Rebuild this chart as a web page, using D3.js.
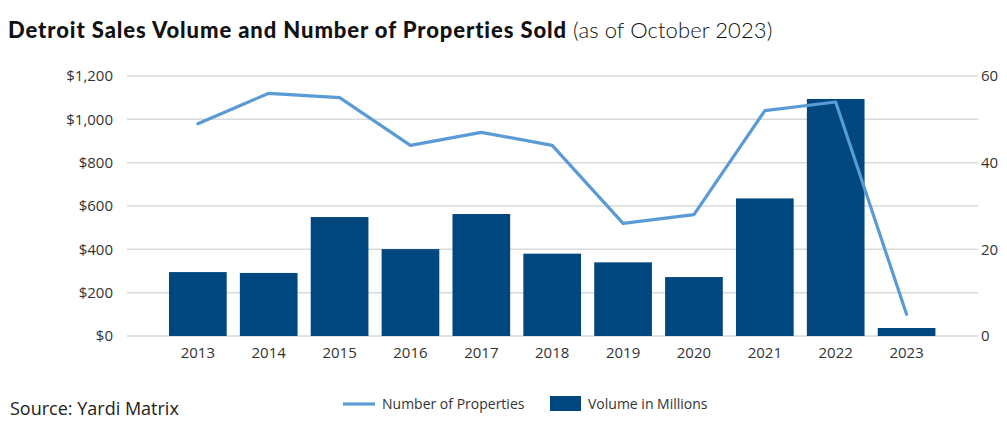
<!DOCTYPE html>
<html>
<head>
<meta charset="utf-8">
<script src="https://cdn.jsdelivr.net/npm/d3@7"></script>
<style>
  html, body { margin: 0; padding: 0; background: #fff; }
  svg { display: block; }
  text { font-family: "Open Sans", sans-serif; }
</style>
</head>
<body>
<svg id="chart" width="1007" height="433"></svg>
<script>
const years = ["2013","2014","2015","2016","2017","2018","2019","2020","2021","2022","2023"];
const volume = [295, 291, 549, 401, 563, 380, 340, 272, 635, 1094, 37];
const properties = [49, 56, 55, 44, 47, 44, 26, 28, 52, 54, 5];
const leftTicks = [0, 200, 400, 600, 800, 1000, 1200];
const rightTicks = [0, 20, 40, 60];

const barColor = "#00467f";
const lineColor = "#5b9bd5";
const gridColor = "#d9d9d9";
const textColor = "#333";

const svg = d3.select("#chart");

const x = d3.scaleBand().domain(years).range([162.4, 942]).paddingInner(0.186).paddingOuter(0.093);
const yL = d3.scaleLinear().domain([0, 1200]).range([336, 76]);
const yR = d3.scaleLinear().domain([0, 60]).range([336, 76]);
const gridX0 = 127, gridX1 = 978;

// gridlines
svg.append("g").selectAll("line").data(leftTicks).join("line")
  .attr("x1", gridX0).attr("x2", gridX1)
  .attr("y1", d => yL(d)).attr("y2", d => yL(d))
  .attr("stroke", gridColor).attr("stroke-width", 1.5);

// left axis labels
const fmt = d => "$" + d3.format(",")(d);
svg.append("g").selectAll("text").data(leftTicks).join("text")
  .attr("x", 113).attr("y", d => yL(d)).attr("dy", "0.35em")
  .attr("text-anchor", "end").attr("font-size", 15).attr("fill", textColor)
  .text(fmt);

// right axis labels
svg.append("g").selectAll("text").data(rightTicks).join("text")
  .attr("x", 981).attr("y", d => yR(d)).attr("dy", "0.35em")
  .attr("text-anchor", "start").attr("font-size", 15).attr("fill", textColor)
  .text(d => d);

// bars
svg.append("g").selectAll("rect").data(years).join("rect")
  .attr("x", d => x(d)).attr("width", x.bandwidth())
  .attr("y", (d, i) => yL(volume[i]))
  .attr("height", (d, i) => yL(0) - yL(volume[i]))
  .attr("fill", barColor);

// line
const line = d3.line()
  .x((d, i) => x(years[i]) + x.bandwidth() / 2)
  .y(d => yR(d));
svg.append("path").datum(properties)
  .attr("d", line).attr("fill", "none")
  .attr("stroke", lineColor).attr("stroke-width", 3.2)
  .attr("stroke-linejoin", "round").attr("stroke-linecap", "round");

// x labels
svg.append("g").selectAll("text").data(years).join("text")
  .attr("x", d => x(d) + x.bandwidth() / 2).attr("y", 358)
  .attr("text-anchor", "middle").attr("font-size", 15).attr("fill", textColor)
  .text(d => d);

// title
const title = svg.append("text").attr("x", 8).attr("y", 38).attr("fill", "#111");
title.append("tspan").attr("font-family", "Lato, sans-serif").attr("font-weight", 900).attr("font-size", 22)
  .attr("letter-spacing", 0.9)
  .text("Detroit Sales Volume and Number of Properties Sold");
title.append("tspan").attr("font-family", "Lato, sans-serif").attr("font-weight", 300).attr("font-size", 22)
  .attr("letter-spacing", 0.1)
  .text(" (as of October 2023)");

// source
svg.append("text").attr("x", 10).attr("y", 415)
  .attr("font-family", "Lato, sans-serif").attr("font-size", 18).attr("fill", "#222")
  .text("Source: Yardi Matrix");

// legend
const lg = svg.append("g");
lg.append("line").attr("x1", 343).attr("x2", 375).attr("y1", 404).attr("y2", 404)
  .attr("stroke", lineColor).attr("stroke-width", 3.2);
lg.append("text").attr("x", 382).attr("y", 404).attr("dy", "0.35em")
  .attr("font-size", 14).attr("fill", textColor).text("Number of Properties");
lg.append("rect").attr("x", 550).attr("y", 396).attr("width", 31).attr("height", 15).attr("fill", barColor);
lg.append("text").attr("x", 588).attr("y", 404).attr("dy", "0.35em")
  .attr("font-size", 14).attr("fill", textColor).text("Volume in Millions");
</script>
</body>
</html>
